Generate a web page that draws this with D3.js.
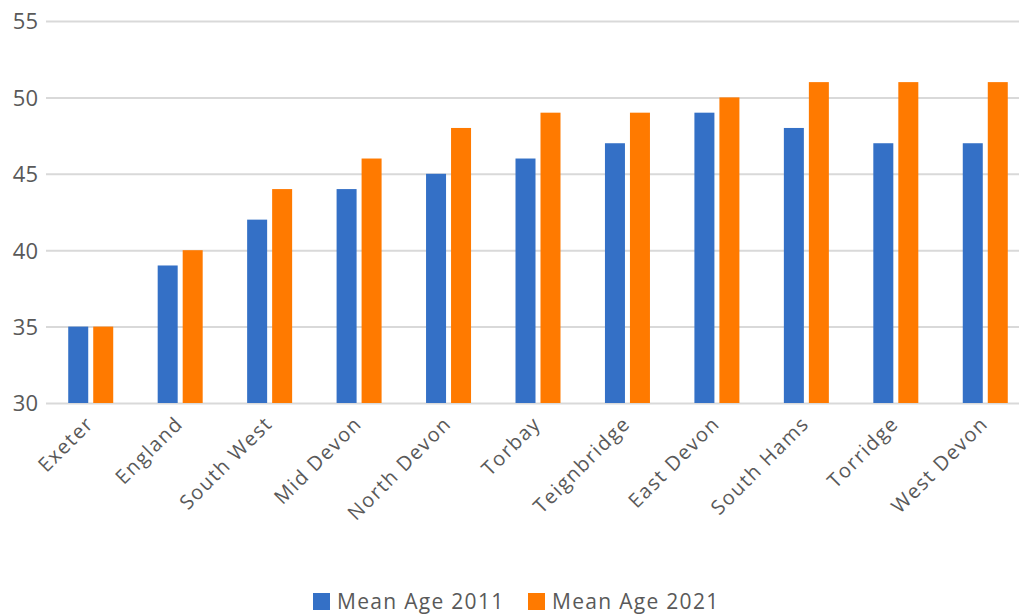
<!DOCTYPE html>
<html>
<head>
<meta charset="utf-8">
<script src="https://cdn.jsdelivr.net/npm/d3@7"></script>
<style>
  html, body { margin: 0; padding: 0; background: #fff; }
  svg { display: block; }
</style>
</head>
<body>
<svg id="chart" width="1019" height="615"></svg>
<script>
// Mean age by area, census 2011 vs 2021
const areas = ["Exeter", "England", "South West", "Mid Devon", "North Devon", "Torbay",
               "Teignbridge", "East Devon", "South Hams", "Torridge", "West Devon"];
const meanAge2011 = [35, 39, 42, 44, 45, 46, 47, 49, 48, 47, 47];
const meanAge2021 = [35, 40, 44, 46, 48, 49, 49, 50, 51, 51, 51];
const seriesNames = ["Mean Age 2011", "Mean Age 2021"];
const seriesColors = ["#3470c6", "#ff7a00"];
const yTicks = [30, 35, 40, 45, 50, 55];

(function () {
const svg = d3.select("#chart");
const font = "'Open Sans', 'DejaVu Sans', sans-serif";
const textColor = "#595959";

const plotLeft = 46, plotRight = 1030, plotTop = 21, plotBottom = 403;

const x = d3.scaleBand().domain(areas).range([plotLeft, plotRight]).paddingInner(0).paddingOuter(0);
const y = d3.scaleLinear().domain([30, 55]).range([plotBottom, plotTop]);

const barW = 20, gap = 5;
const inner = d3.scaleBand().domain([0, 1]).range([0, barW * 2 + gap]).paddingInner(gap / (barW + gap));

// Horizontal gridlines with value labels
const yAxis = d3.axisLeft(y).tickValues(yTicks).tickSize(-(1019 - plotLeft + 2)).tickPadding(6).tickFormat(d3.format("d"));
const gy = svg.append("g").attr("transform", `translate(${plotLeft},0)`).call(yAxis);
gy.select(".domain").remove();
gy.selectAll(".tick line").attr("stroke", "#d9d9d9").attr("stroke-width", 2);
gy.selectAll(".tick text").attr("fill", textColor).style("font-family", font).style("font-size", "22px")
  .attr("x", -8).attr("dy", "0.36em");

// Bars
const series = [meanAge2011, meanAge2021];
series.forEach((vals, si) => {
  svg.append("g").selectAll("rect").data(areas).join("rect")
    .attr("x", d => x(d) + (x.bandwidth() - (barW * 2 + gap)) / 2 + inner(si))
    .attr("width", inner.bandwidth())
    .attr("y", (d, i) => y(vals[i]))
    .attr("height", (d, i) => y(30) - y(vals[i]))
    .attr("fill", seriesColors[si]);
});

// Category labels rotated 45 degrees
const xAxis = d3.axisBottom(x).tickSize(0).tickPadding(0);
const gx = svg.append("g").attr("transform", `translate(0,${plotBottom})`).call(xAxis);
gx.select(".domain").remove();
gx.selectAll(".tick text")
  .attr("fill", textColor).style("font-family", font).style("font-size", "20px")
  .style("letter-spacing", "1.5px")
  .attr("text-anchor", "end")
  .attr("transform", "translate(4,22) rotate(-45)")
  .attr("dy", "0");

// Legend
const legend = svg.append("g").attr("transform", "translate(0,601)");
const legendX = [313, 528];
seriesNames.forEach((name, i) => {
  const g = legend.append("g").attr("transform", `translate(${legendX[i]},0)`);
  g.append("rect").attr("x", 0).attr("y", -8).attr("width", 17).attr("height", 17).attr("fill", seriesColors[i]);
  g.append("text").attr("x", 24).attr("y", 0).attr("dy", "0.36em")
    .attr("fill", textColor).style("font-family", font).style("font-size", "21px")
    .style("letter-spacing", "1.3px").text(name);
});
})();
</script>
</body>
</html>
